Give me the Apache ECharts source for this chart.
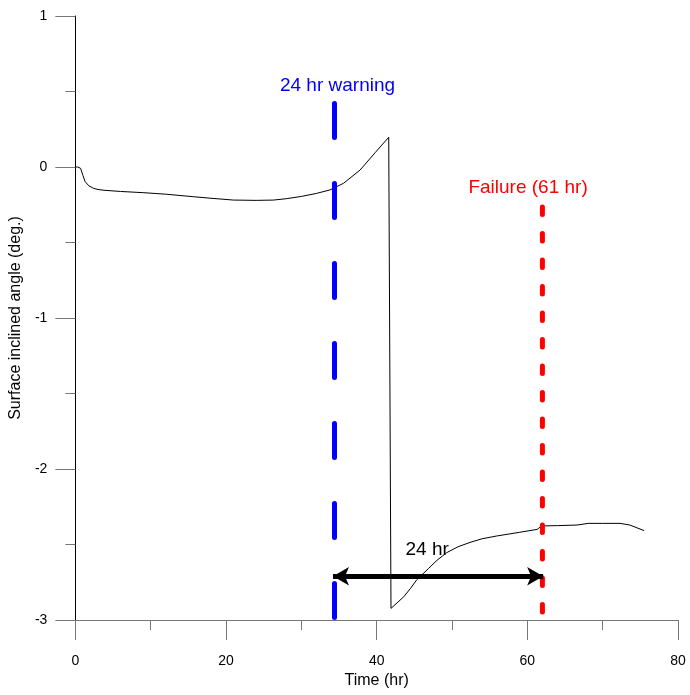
<!DOCTYPE html>
<html>
<head>
<meta charset="utf-8">
<script src="https://cdn.jsdelivr.net/npm/echarts@6/dist/echarts.min.js"></script>
<style>html,body{margin:0;padding:0;background:#fff}#c{width:690px;height:695px}</style>
</head>
<body>
<div id="c"></div>
<script>
// Measured curve
var timeHr = [0, 0.3, 0.7, 1.0, 1.3, 1.8, 2.4, 3.0, 3.8, 6, 9, 12, 15.7, 18, 21, 24, 26.3, 28, 30, 32, 33.8, 35.6, 37.8, 39.8, 41.6, 41.9, 42.7, 43.6, 44.5, 45.3, 46.9, 48.0, 49.3, 50.8, 52.4, 54.0, 55.9, 59.0, 61.3, 61.9, 64, 66.6, 68.1, 70, 72.3, 73.6, 75.5];
var angleDeg = [0, 0, -0.009, -0.055, -0.097, -0.125, -0.141, -0.149, -0.154, -0.162, -0.170, -0.180, -0.197, -0.207, -0.219, -0.221, -0.219, -0.210, -0.195, -0.175, -0.152, -0.108, -0.020, 0.095, 0.197, -2.923, -2.887, -2.846, -2.790, -2.735, -2.658, -2.605, -2.554, -2.515, -2.486, -2.462, -2.444, -2.419, -2.400, -2.377, -2.375, -2.371, -2.360, -2.360, -2.360, -2.371, -2.408];

// Reference lines
var warningX = [34.4, 34.4];
var warningY = [0.42, -3];
var failureX = [62.0, 62.0];
var failureY = [-0.265, -3];
var arrowX = [34.2, 62.1];
var arrowY = [-2.71, -2.71];

// Annotations
var annoText = ['24 hr warning', 'Failure (61 hr)', '24 hr'];
var annoX = [34.8, 60.1, 46.7];
var annoY = [0.54, -0.14, -2.535];
var annoColor = ['#0000ff', '#ff0000', '#000000'];

function pairs(xs, ys) { return xs.map(function (x, i) { return [x, ys[i]]; }); }

var font = 'Liberation Sans, Arial, sans-serif';
var chart = echarts.init(document.getElementById('c'), null, { renderer: 'canvas' });
chart.setOption({
  animation: false,
  backgroundColor: '#ffffff',
  grid: { left: 75, right: 12, top: 16, bottom: 75, containLabel: false },
  xAxis: {
    type: 'value', min: 0, max: 80, interval: 20,
    name: 'Time (hr)', nameLocation: 'middle', nameGap: 52,
    nameTextStyle: { fontFamily: font, fontSize: 16, color: '#000' },
    axisLine: { onZero: false, lineStyle: { color: '#777', width: 1 } },
    axisTick: { show: true, length: 20, lineStyle: { color: '#777' } },
    minorTick: { show: true, splitNumber: 2, length: 10, lineStyle: { color: '#777' } },
    splitLine: { show: false },
    axisLabel: { fontFamily: font, fontSize: 14, color: '#000', margin: 34 }
  },
  yAxis: {
    type: 'value', min: -3, max: 1, interval: 1,
    name: 'Surface inclined angle (deg.)', nameLocation: 'middle', nameGap: 45,
    nameTextStyle: { fontFamily: font, fontSize: 16, color: '#000' },
    axisLine: { show: true, onZero: false, lineStyle: { color: '#000', width: 1 } },
    axisTick: { show: true, length: 20, lineStyle: { color: '#777' } },
    minorTick: { show: true, splitNumber: 2, length: 10, lineStyle: { color: '#777' } },
    splitLine: { show: false },
    axisLabel: { fontFamily: font, fontSize: 14, color: '#000', margin: 28 }
  },
  series: [
    {
      type: 'line', data: pairs(timeHr, angleDeg), showSymbol: false, symbol: 'none',
      lineStyle: { color: '#000', width: 1 }, z: 3
    },
    {
      type: 'line', data: pairs(warningX, warningY), symbol: 'none',
      lineStyle: { color: '#0000ff', width: 5, type: [34, 46], cap: 'round' }, z: 4
    },
    {
      type: 'line', data: pairs(failureX, failureY), symbol: 'none',
      lineStyle: { color: '#ff0000', width: 5, type: [7.5, 19], cap: 'round' }, z: 4
    },
    {
      type: 'line', data: [], symbol: 'none',
      markLine: {
        silent: true,
        symbol: ['arrow', 'arrow'], symbolSize: [14, 16],
        label: { show: false },
        lineStyle: { color: '#000', width: 5, type: 'solid', opacity: 1 },
        data: [[{ coord: [arrowX[0], arrowY[0]] }, { coord: [arrowX[1], arrowY[1]] }]]
      }, z: 5
    },
    {
      type: 'scatter', symbolSize: 0, z: 6, silent: true,
      itemStyle: { opacity: 1 },
      data: annoText.map(function (t, i) {
        return {
          value: [annoX[i], annoY[i]],
          label: {
            show: true, position: 'inside', formatter: t, opacity: 1,
            fontFamily: font, fontSize: 19, color: annoColor[i],
            textBorderWidth: 0
          }
        };
      })
    }
  ]
});
</script>
</body>
</html>
